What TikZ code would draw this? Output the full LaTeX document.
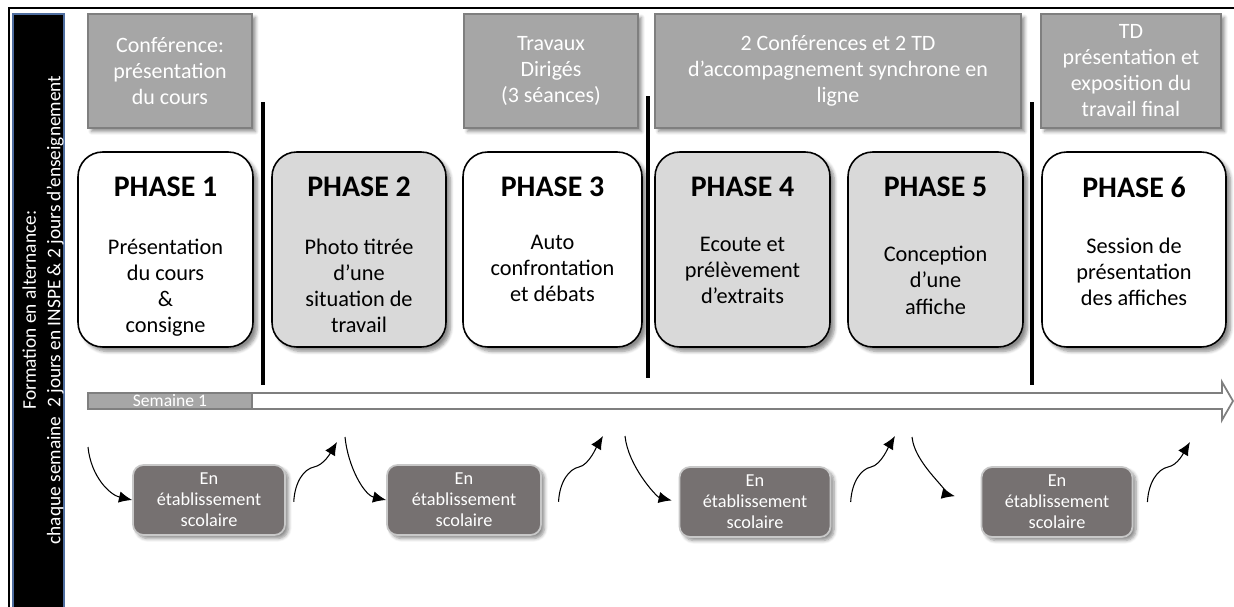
\documentclass[tikz,border=0pt]{standalone}
\usepackage{fontspec}
\setmainfont{Carlito}
\usetikzlibrary{positioning,arrows.meta,shadows.blur}

\definecolor{seancegray}{RGB}{166,166,166}
\definecolor{seanceedge}{RGB}{127,127,127}
\definecolor{phasegray}{RGB}{217,217,217}
\definecolor{ecolegray}{RGB}{118,113,113}
\definecolor{ecoleedge}{RGB}{200,200,200}
\definecolor{bandblue}{RGB}{79,110,160}

\tikzset{
  seance/.style={draw=seanceedge,line width=1.3pt,fill=seancegray,text=white,align=center,
    font=\fontsize{12.5}{14.8}\selectfont,minimum height=2.28cm,inner sep=0pt,
    blur shadow={shadow xshift=2pt,shadow yshift=-2pt,shadow blur steps=6,shadow opacity=45}},
  phase/.style={draw=black,line width=0.9pt,rounded corners=14pt,minimum height=3.9cm,
    blur shadow={shadow xshift=2.5pt,shadow yshift=-2.5pt,shadow blur steps=6,shadow opacity=45}},
  phasetitle/.style={font=\fontsize{17}{20}\selectfont\bfseries},
  phasetext/.style={anchor=north,align=center,inner sep=0pt,font=\fontsize{12.7}{14.8}\selectfont},
  ecole/.style={draw=ecoleedge,line width=1pt,fill=ecolegray,text=white,rounded corners=6pt,align=center,
    minimum height=1.4cm,inner sep=0pt,font=\fontsize{10.4}{12}\selectfont,
    blur shadow={shadow xshift=2pt,shadow yshift=-2pt,shadow blur steps=6,shadow opacity=45}},
  semaine/.style={draw=seanceedge,line width=1pt,fill=seancegray,text=white,inner sep=0pt,
    minimum width=3.28cm,minimum height=0.32cm,font=\fontsize{10}{10}\selectfont},
  bandtext/.style={text=white,align=center,rotate=90,inner sep=0pt,font=\fontsize{11}{14}\selectfont},
  curvy/.style={line width=0.6pt,-{Latex[length=7.5pt,width=6.5pt]}},
  divider/.style={line width=2.4pt},
  timeline/.style={draw=seanceedge,line width=1pt,fill=white}
}

\begin{document}
\begin{tikzpicture}[x=0.02cm,y=-0.02cm]
\useasboundingbox (0,0) rectangle (1234,606);
% cadre et bandeau
\draw[line width=1.6pt] (9,620)--(9,8)--(1240,8);
\draw[draw=bandblue,line width=1pt,fill=black] (13,14) rectangle (64,612);
\node[bandtext,name=band] at (43,310){Formation en alternance:\\chaque semaine\ \ 2 jours en INSPE \& 2 jours d’enseignement};
% seances
\node[seance,minimum width=3.28cm,name=c1] at (170,71){Conférence:\\présentation\\du cours};
\node[seance,minimum width=3.48cm,name=c2] at (551,71){Travaux\\Dirigés\\(3 séances)};
\node[seance,minimum width=7.32cm,name=c3] at (838,71){2 Conférences et 2 TD\\d’accompagnement synchrone en\\ligne};
\node[seance,minimum width=3.6cm,name=c4] at (1131,71){TD\\présentation et\\exposition du\\travail final};
% separations
\draw[divider] (263,102)--(263,385);
\draw[divider] (648,96)--(648,378);
\draw[divider] (1032,102)--(1032,385);
% phases
\node[phase,fill=white,minimum width=3.5cm,name=p1] at (165.5,249.5){};
\node[phase,fill=phasegray,minimum width=3.48cm,name=p2] at (359,249.5){};
\node[phase,fill=white,minimum width=3.58cm,name=p3] at (552.5,249.5){};
\node[phase,fill=phasegray,minimum width=3.5cm,name=p4] at (742.5,249.5){};
\node[phase,fill=phasegray,minimum width=3.5cm,name=p5] at (935.5,249.5){};
\node[phase,fill=white,minimum width=3.68cm,name=p6] at (1134,249.5){};
\node[phasetitle,name=t1] at ([yshift=-0.72cm]p1.north){PHASE 1};
\node[phasetitle,name=t2] at ([yshift=-0.72cm]p2.north){PHASE 2};
\node[phasetitle,name=t3] at ([yshift=-0.72cm]p3.north){PHASE 3};
\node[phasetitle,name=t4] at ([yshift=-0.72cm]p4.north){PHASE 4};
\node[phasetitle,name=t5] at ([yshift=-0.72cm]p5.north){PHASE 5};
\node[phasetitle,name=t6] at ([yshift=-0.72cm]p6.north){PHASE 6};
\node[phasetext,name=d1] at ([yshift=-1.74cm]p1.north){Présentation\\du cours\\\&\\consigne};
\node[phasetext,name=d2] at ([yshift=-1.74cm]p2.north){Photo titrée\\d’une\\situation de\\travail};
\node[phasetext,name=d3] at ([yshift=-1.68cm]p3.north){Auto\\confrontation\\et débats};
\node[phasetext,name=d4] at ([yshift=-1.72cm]p4.north){Ecoute et\\prélèvement\\d’extraits};
\node[phasetext,name=d5] at ([yshift=-1.9cm]p5.north){Conception\\d’une\\affiche};
\node[phasetext,name=d6] at ([yshift=-1.72cm]p6.north){Session de\\présentation\\des affiches};
% ligne du temps
\draw[timeline] (88,393)--(1222,393)--(1222,382)--(1233,401)--(1222,420)--(1222,409)--(88,409)--cycle;
\node[semaine,name=s1] at (170,401){Semaine 1};
% en etablissement
\node[ecole,minimum width=3.04cm,name=e1] at (209,500){En\\établissement\\scolaire};
\node[ecole,minimum width=3.08cm,name=e2] at (464,500){En\\établissement\\scolaire};
\node[ecole,minimum width=3.02cm,name=e3] at (755,502){En\\établissement\\scolaire};
\node[ecole,minimum width=3.02cm,name=e4] at (1057,502){En\\établissement\\scolaire};
\coordinate (a1) at (88,447);
\coordinate (a2) at (345,437);
\coordinate (a3) at (625,436);
\coordinate (a4) at (912,437);
\draw[curvy] (a1) .. controls +(3,30) and +(-22,-5) .. (e1.west);
\draw[curvy] (a2) .. controls +(3,30) and +(-22,-5) .. (e2.west);
\draw[curvy,shorten >=4pt] (a3) .. controls +(3,30) and +(-22,-5) .. (e3.west);
\draw[curvy,shorten >=15pt] (a4) .. controls +(3,30) and +(-22,-5) .. (e4.west);
\coordinate (b1) at ([xshift=4.5pt,yshift=-1pt]e1.east);
\coordinate (b2) at ([xshift=9.5pt,yshift=-1pt]e2.east);
\coordinate (b3) at ([xshift=11pt]e3.east);
\coordinate (b4) at ([xshift=8pt]e4.east);
\coordinate (m1) at (314,467);
\coordinate (m2) at (579,467);
\coordinate (m3) at (871,467);
\coordinate (m4) at (1168,467);
\coordinate (c1) at (337,442);
\coordinate (c2) at (603,436);
\coordinate (c3) at (895,436);
\coordinate (c4) at (1190,442);
\draw[curvy] (b1) .. controls +(1,-20) and +(-10,2) .. (m1) .. controls +(10,-2) and +(-6,10) .. (c1);
\draw[curvy] (b2) .. controls +(1,-20) and +(-10,2) .. (m2) .. controls +(10,-2) and +(-6,10) .. (c2);
\draw[curvy] (b3) .. controls +(1,-20) and +(-10,2) .. (m3) .. controls +(10,-2) and +(-6,10) .. (c3);
\draw[curvy] (b4) .. controls +(1,-20) and +(-10,2) .. (m4) .. controls +(10,-2) and +(-6,10) .. (c4);
\end{tikzpicture}
\end{document}
